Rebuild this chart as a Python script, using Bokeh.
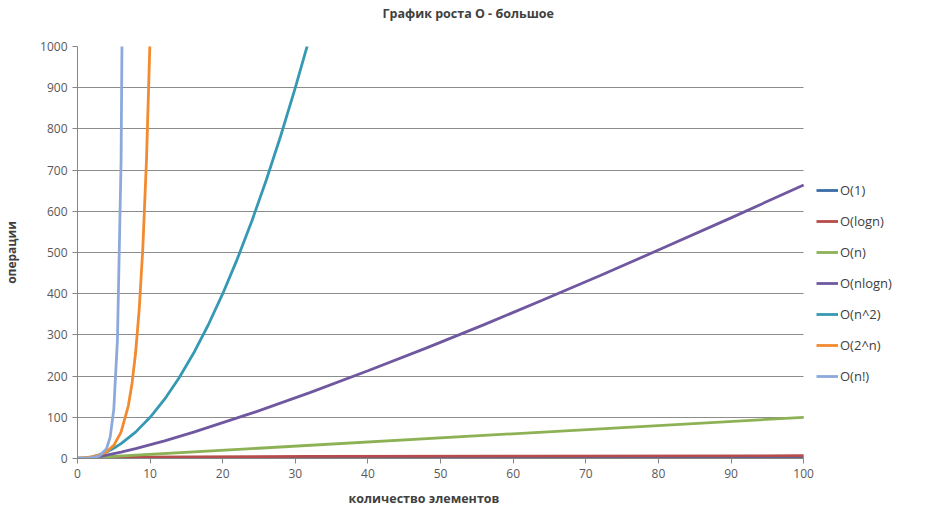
from bokeh.plotting import figure
from bokeh.models import Legend, LegendItem, Title, FixedTicker, Range1d
from bokeh.embed import file_html
from bokeh.resources import INLINE

# ---- data ----
title_text = "График роста O - большое"
x_label = "количество элементов"
y_label = "операции"

x_ticks = [0, 10, 20, 30, 40, 50, 60, 70, 80, 90, 100]
y_ticks = [0, 100, 200, 300, 400, 500, 600, 700, 800, 900, 1000]

series_names = ["O(1)", "O(logn)", "O(n)", "O(nlogn)", "O(n^2)", "O(2^n)", "O(n!)"]

x_const = [0, 100]
y_const = [1, 1]

x_log = [1, 2, 3, 4, 6, 8, 16, 32, 64, 100]
y_log = [0, 1, 1.58, 2, 2.58, 3, 4, 5, 6, 6.64]

x_lin = [0, 100]
y_lin = [0, 100]

x_nlog = [0, 1, 2, 3, 4, 6, 8, 12, 16, 24, 32, 40, 48, 56, 64, 72, 80, 90, 100]
y_nlog = [0, 0, 2, 4.75, 8, 15.5, 24, 43, 64, 110, 160, 213, 268, 325, 384, 444, 506, 584, 664]

x_sq = [0, 1, 2, 3, 4, 5, 6, 8, 10, 12, 14, 16, 18, 20, 22, 24, 26, 28, 30, 32]
y_sq = [0, 1, 4, 9, 16, 25, 36, 64, 100, 144, 196, 256, 324, 400, 484, 576, 676, 784, 900, 1024]

x_exp = [0, 1, 2, 3, 4, 5, 6, 7, 7.5, 8, 8.5, 9, 9.5, 10, 10.5]
y_exp = [1, 2, 4, 8, 16, 32, 64, 128, 181, 256, 362, 512, 724, 1024, 1448]

x_fact = [0, 1, 2, 3, 4, 4.5, 5, 5.5, 6, 6.5]
y_fact = [1, 1, 2, 6, 24, 52, 120, 288, 720, 1871]

colors = ["#3A6CA6", "#B84B4B", "#8DB255", "#7058A0", "#3699B4", "#F28A30", "#8DA9DB"]

series_x = [x_const, x_log, x_lin, x_nlog, x_sq, x_exp, x_fact]
series_y = [y_const, y_log, y_lin, y_nlog, y_sq, y_exp, y_fact]

FONT = "Open Sans"

# frame is widened to the right so the legend can sit inside it;
# axis and grid are bounded to the data range 0..100
W, H = 930, 514
LEFT, RIGHT, TOP, BOTTOM = 76, 5, 46, 55
frame_w = W - LEFT - RIGHT
x_end = 100 * frame_w / 727

p = figure(width=W, height=H, output_backend="svg", toolbar_location=None,
           x_range=Range1d(0, x_end), y_range=Range1d(0, 1000),
           min_border_left=LEFT, min_border_right=RIGHT, min_border_top=TOP, min_border_bottom=BOTTOM)
p.title = None

p.outline_line_color = None
p.background_fill_color = "white"
p.border_fill_color = "white"

# spacer (closest to the frame), then the real title above it
spacer = Title(text=" ", standoff=6, text_font=FONT, text_font_size="12px")
p.add_layout(spacer, "above")
t = Title(text=title_text, align="left", offset=305, standoff=0, text_font=FONT,
          text_font_size="12.5px", text_font_style="bold", text_color="#404040")
p.add_layout(t, "above")

renderers = []
for xs, ys, c in zip(series_x, series_y, colors):
    r = p.line(xs, ys, line_color=c, line_width=2.8)
    renderers.append(r)

for ax in (p.xaxis[0], p.yaxis[0]):
    ax.axis_line_color = "#868686"
    ax.major_tick_line_color = "#868686"
    ax.minor_tick_line_color = None
    ax.major_tick_in = 0
    ax.major_tick_out = 5
    ax.major_label_text_font = FONT
    ax.major_label_text_font_size = "12px"
    ax.major_label_text_color = "#595959"
    ax.axis_label_text_font = FONT
    ax.axis_label_text_font_size = "12px"
    ax.axis_label_text_font_style = "bold"
    ax.axis_label_text_color = "#404040"

p.xaxis[0].ticker = FixedTicker(ticks=x_ticks)
p.yaxis[0].ticker = FixedTicker(ticks=y_ticks)
p.xaxis[0].bounds = (0, 100)
p.yaxis[0].axis_label = y_label
p.yaxis[0].axis_label_standoff = 17

xt = Title(text=x_label, align="left", offset=271, standoff=15, text_font=FONT,
           text_font_size="12.5px", text_font_style="bold", text_color="#404040")
p.add_layout(xt, "below")

p.xgrid.grid_line_color = None
p.ygrid.grid_line_color = "#8C8C8C"
p.ygrid.grid_line_width = 1
p.ygrid.cross_bounds = (0, 100)

items = [LegendItem(label=n, renderers=[r]) for n, r in zip(series_names, renderers)]
legend = Legend(items=items, location=(739, 72), orientation="vertical",
                glyph_width=22, glyph_height=20, label_height=20, spacing=11,
                label_standoff=2, padding=0, margin=0,
                border_line_color=None, background_fill_alpha=0,
                label_text_font=FONT, label_text_font_size="13px", label_text_color="#404040")
p.add_layout(legend, "center")

open("out.html", "w").write(file_html(p, INLINE))
